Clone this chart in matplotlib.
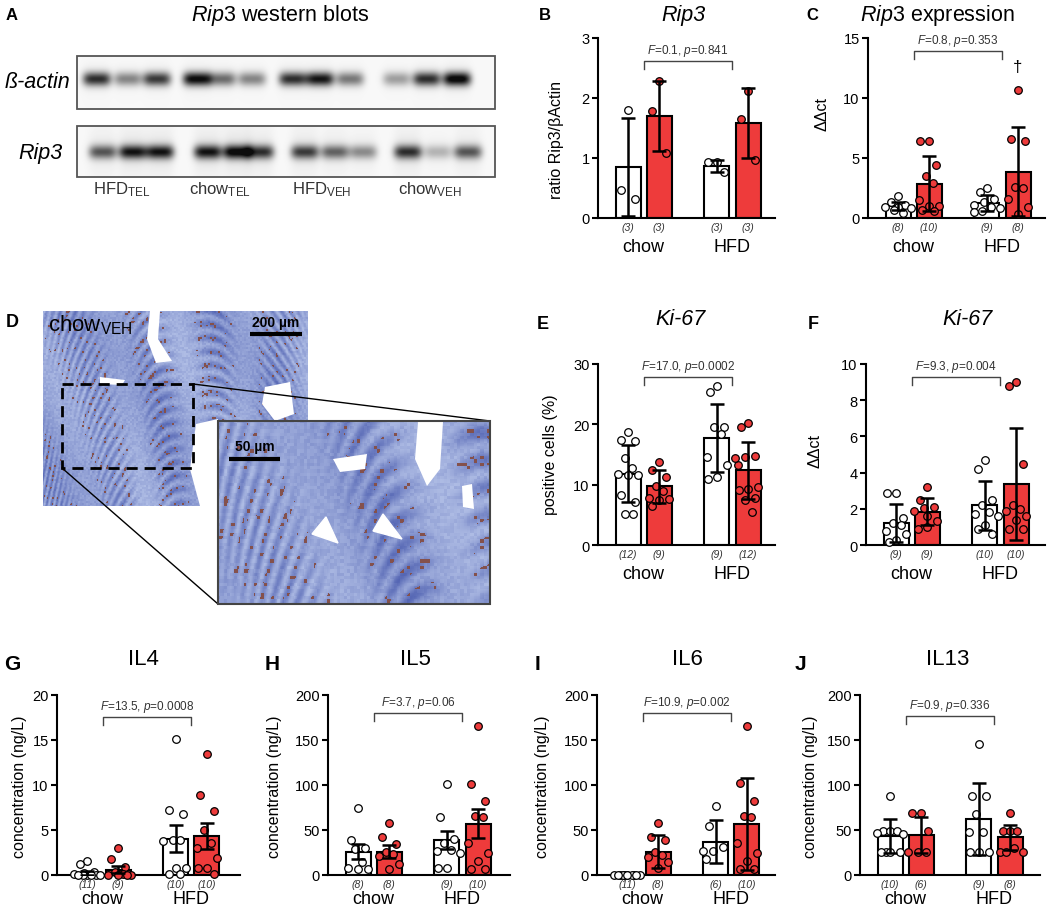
import numpy as np
import matplotlib
matplotlib.use("Agg")
import matplotlib.pyplot as plt
from matplotlib.patches import Rectangle, Polygon

W, H = 1052, 912

plt.rcParams['font.family'] = ['Liberation Sans', 'DejaVu Sans']
plt.rcParams['mathtext.fontset'] = 'custom'
plt.rcParams['mathtext.rm'] = 'Liberation Sans'
plt.rcParams['mathtext.it'] = 'Liberation Sans:italic'
plt.rcParams['mathtext.bf'] = 'Liberation Sans:bold'

RED = "#EE3B3B"
fills = ["white", RED]
groups = ["chow", "HFD"]
pos = [1.2, 2.45, 4.75, 6.0]

# A - western blot band strengths (3 lanes per group)
lane_labels = [r"HFD$_{\mathrm{TEL}}$", r"chow$_{\mathrm{TEL}}$", r"HFD$_{\mathrm{VEH}}$", r"chow$_{\mathrm{VEH}}$"]
actin_lanes = [97, 128, 157, 197, 222, 252, 293, 320, 350, 397, 427, 457]
actin_int = [0.80, 0.45, 0.75, 0.95, 0.55, 0.45, 0.80, 0.90, 0.50, 0.35, 0.80, 1.00]
rip3_lanes = [103, 133, 160, 208, 237, 260, 305, 335, 363, 408, 438, 468]
rip3_int = [0.60, 0.85, 0.85, 0.85, 0.95, 0.75, 0.70, 0.55, 0.40, 0.75, 0.25, 0.60]

# B - Rip3 / beta actin ratio
b_means = [0.85, 1.70, 0.87, 1.58]
b_err = [0.81, 0.59, 0.10, 0.58]
b_points = [[1.80, 0.47, 0.32], [2.28, 1.78, 1.08], [0.94, 0.93, 0.77], [2.12, 1.65, 0.97]]

# C - Rip3 expression
c_means = [1.0, 2.85, 1.25, 3.85]
c_err = [0.35, 2.3, 0.65, 3.7]
c_points = [[1.8, 1.3, 1.1, 0.95, 0.9, 0.8, 0.7, 0.4],
            [6.4, 6.4, 4.4, 3.5, 2.9, 1.5, 1.0, 1.0, 0.7, 0.6],
            [2.5, 2.2, 1.6, 1.3, 1.1, 0.9, 0.8, 0.6, 0.5],
            [10.7, 6.6, 6.4, 2.6, 2.5, 1.6, 0.9, 0.3]]

# E - Ki-67 positive cells
e_means = [11.8, 9.7, 17.7, 12.4]
e_err = [4.7, 2.7, 5.6, 4.7]
e_points = [[18.7, 17.3, 17.4, 14.4, 12.8, 11.8, 11.6, 11.6, 8.3, 7.1, 5.1, 5.1],
            [13.8, 12.4, 11.3, 9.8, 8.9, 7.8, 7.6, 7.5, 6.4],
            [26.4, 25.3, 19.5, 19.6, 18.4, 14.6, 13.2, 11.2, 10.9],
            [20.2, 19.6, 14.8, 14.6, 13.2, 14.4, 9.6, 9.3, 9.1, 7.5, 7.8, 5.4]]

# F - Ki-67 ddct
f_means = [1.2, 1.85, 2.2, 3.35]
f_err = [1.05, 0.75, 1.35, 3.1]
f_points = [[2.9, 2.85, 1.5, 1.2, 1.1, 0.75, 0.6, 0.3, 0.15],
            [3.2, 2.5, 2.1, 2.05, 1.9, 1.6, 1.3, 1.0, 0.9],
            [4.7, 4.2, 2.5, 2.2, 1.8, 1.7, 1.6, 1.1, 0.9, 0.6],
            [9.0, 8.8, 4.5, 2.2, 2.0, 1.9, 1.6, 1.4, 0.9, 0.9]]

# G - IL4
g_means = [0.2, 0.6, 4.05, 4.3]
g_err = [0.25, 0.4, 1.5, 1.45]
g_points = [[1.6, 1.2, 0.3, 0.2, 0.1, 0, 0, 0, 0, 0, 0],
            [3.0, 1.8, 0.9, 0.3, 0.1, 0, 0, 0, 0],
            [15.1, 7.2, 6.8, 3.9, 3.8, 3.9, 0.8, 0.8, 0.1, 0.1],
            [13.4, 8.9, 7.1, 5.0, 3.6, 3.0, 1.9, 0.8, 0.8, 0.1]]

# H - IL5
h_means = [26, 26, 39, 57]
h_err = [8, 7, 10, 16]
h_points = [[75, 39, 30, 29, 15, 8, 7, 7],
            [58, 42, 35, 26, 23, 21, 12, 7],
            [101, 65, 40, 36, 28, 27, 24, 8, 8],
            [166, 101, 82, 66, 65, 36, 25, 16, 7, 7]]

# I - IL6
i_means = [0, 26, 37, 57]
i_err = [0, 18, 24, 51]
i_points = [[0, 0, 0, 0, 0, 0, 0, 0, 0, 0, 0],
            [58, 42, 39, 26, 22, 20, 15, 8],
            [77, 54, 31, 27, 27, 18],
            [166, 102, 82, 66, 65, 36, 25, 16, 7, 7]]

# J - IL13
j_means = [43, 44, 62, 42]
j_err = [19, 20, 40, 14]
j_points = [[88, 49, 49, 49, 47, 46, 26, 26, 26, 26],
            [69, 69, 49, 26, 26, 26],
            [146, 88, 88, 68, 48, 48, 26, 26, 26],
            [69, 49, 49, 49, 30, 26, 26, 26]]


fig = plt.figure(figsize=(W / 100, H / 100), dpi=100)
fig.patch.set_facecolor("white")

# background axes in pixel coordinates for images / labels
bg = fig.add_axes([0, 0, 1, 1])
bg.axis("off")


def ftext(x, y, s, **kw):
    kw.setdefault("ha", "center")
    kw.setdefault("va", "center")
    bg.text(x, y, s, **kw)


# ---------- panel A: blots ----------
bx0, bx1 = 77, 495


def blot(y0, y1, lanes, ints, yc, tail):
    xs = np.arange(bx0, bx1) + 0.5
    ys = np.arange(y0, y1) + 0.5
    X, Y = np.meshgrid(xs, ys)
    img = np.zeros_like(X)
    for xc, a in zip(lanes, ints):
        core = np.exp(-((X - xc) / 14.0) ** 4)
        img += a * core * np.exp(-((Y - yc) / 7.0) ** 2)
        if tail:
            d = np.abs(Y - yc)
            img += 0.13 * a * core * np.exp(-d / 18.0)
        else:
            img += 0.05 * a * core * np.exp(-np.abs(Y - yc) / 12.0)
    img = np.clip(img + 0.03, 0, 1)
    bg.imshow(img, cmap="gray_r", vmin=0, vmax=1.05, extent=(bx0, bx1, y1, y0),
              interpolation="bilinear", zorder=1)
    bg.add_patch(Rectangle((bx0, y0), bx1 - bx0, y1 - y0, fill=False, ec="#555555", lw=1.3, zorder=3))


blot(57, 110, actin_lanes, actin_int, 80, False)
blot(127, 178, rip3_lanes, rip3_int, 153, True)
ftext(38, 82, "ß-actin", fontsize=15.5, style="italic")
ftext(40, 153, "Rip3", fontsize=15.5, style="italic")
for k, lab in enumerate(lane_labels):
    ftext([122, 220, 322, 430][k], 190, lab, fontsize=12, color="#333333")

# ---------- panel D: histology ----------


def tissue(x0, y0, x1, y1, f, a0, period):
    xs = np.arange(x0, x1) * f
    ys = np.arange(y0, y1) * f
    X, Y = np.meshgrid(xs, ys)
    a = a0 + 0.005 * (X - xs[0])
    u = X * np.cos(a) + Y * np.sin(a)
    v = -X * np.sin(a) + Y * np.cos(a)
    crypt = 0.5 + 0.5 * np.sin(u * 2 * np.pi / period + 2.0 * np.sin(0.03 * v))
    band = 0.5 + 0.5 * np.sin(v * 0.035)
    gx = np.floor(X / 2.0)
    gy = np.floor(Y / 2.0)
    grain = np.sin(gx * 12.9898 + gy * 78.233) * 43758.5453
    grain = grain - np.floor(grain)
    t = 0.28 + 0.38 * crypt * band + 0.14 * grain + 0.08 * np.sin(0.05 * X - 0.03 * Y)
    t = np.clip(t, 0, 1)
    light = np.array([0.80, 0.85, 0.96])
    dark = np.array([0.25, 0.32, 0.66])
    rgb = light + (dark - light) * t[..., None]
    spots = (grain > 0.88) & (crypt > 0.65) & (band > 0.35)
    rgb[spots] = [0.52, 0.32, 0.30]
    return rgb


bg.imshow(tissue(43, 312, 308, 507, 1.0, 0.5, 13), extent=(43, 308, 507, 312),
          interpolation="bilinear", zorder=1)
bg.imshow(tissue(218, 422, 490, 605, 0.6, 0.3, 14), extent=(218, 490, 605, 422),
          interpolation="bilinear", zorder=4)

lumen_main = [[(150, 312), (160, 312), (158, 340), (172, 362), (156, 364), (147, 340)],
              [(265, 388), (290, 383), (294, 415), (275, 422), (262, 405)],
              [(196, 425), (218, 420), (218, 507), (200, 507), (190, 470)],
              [(100, 378), (125, 381), (122, 386), (100, 385)]]
lumen_inset = [[(333, 460), (367, 455), (365, 470), (340, 473)],
               [(418, 423), (443, 423), (440, 470), (427, 487), (415, 460)],
               [(462, 487), (472, 485), (474, 510), (463, 508)]]
for poly in lumen_main:
    bg.add_patch(Polygon(poly, closed=True, fc="white", ec="none", zorder=2))
for poly in lumen_inset:
    bg.add_patch(Polygon(poly, closed=True, fc="white", ec="none", zorder=5))

bg.add_patch(Rectangle((62, 385), 131, 84, fill=False, ec="black", lw=2, ls=(0, (4, 2.5)), zorder=3))
bg.plot([193, 490], [385, 422], color="black", lw=1, zorder=3)
bg.plot([62, 218], [469, 605], color="black", lw=1, zorder=3)
bg.add_patch(Rectangle((218, 422), 272, 183, fill=False, ec="#444444", lw=1.5, zorder=6))

bg.plot([250, 302], [335, 335], color="black", lw=3, zorder=6, solid_capstyle="butt")
ftext(276, 323, "200 µm", fontsize=10, fontweight="bold", zorder=6)
bg.plot([229, 280], [460, 460], color="black", lw=3, zorder=6, solid_capstyle="butt")
ftext(255, 447, "50 µm", fontsize=10, fontweight="bold", zorder=6)
for tri in [[(326, 518), (312, 535), (338, 544)], [(383, 515), (373, 532), (402, 540)]]:
    bg.add_patch(Polygon(tri, closed=True, fc="white", ec="white", lw=1, zorder=6))
bg.text(48, 325, r"chow$_{\mathrm{VEH}}$", fontsize=16, ha="left", va="center", zorder=6)

bg.set_aspect("auto")
bg.set_xlim(0, W)
bg.set_ylim(H, 0)


# ---------- bar panels ----------


def spread(values, ppy, d=7.5):
    xs = [0.0] * len(values)
    placed = []
    cands = [0, -4.5, 4.5, -9, 9, -13, 13]
    prefer = [0, -7, 7, -3, 4, -10, 10]
    order = np.argsort(values)[::-1]
    for rank, i in enumerate(order):
        y = values[i] * ppy
        tries = [prefer[rank % len(prefer)]] + cands
        best, best_gap = 0, -1
        for c in tries:
            gap = min([np.hypot(c - px, y - py) for px, py in placed], default=99)
            if gap >= d:
                best = c
                break
            if gap > best_gap:
                best, best_gap = c, gap
        xs[i] = best
        placed.append((best, y))
    return np.array(xs) / 25.0


def bar_panel(box, ymax, yticks, means, errs, points, stat, stat_y, glab_off=-20.5):
    l, t, r, b = box
    ax = fig.add_axes([l / W, 1 - b / H, (r - l) / W, (b - t) / H])
    ax.set_xlim(0, (r - l) / 25.0)
    ax.set_ylim(0, ymax)
    ppy = (b - t) / ymax
    for k in range(4):
        face = fills[k % 2]
        if means[k] > 0:
            ax.bar(pos[k], means[k], width=1.0, color=face, edgecolor="black", linewidth=1.5, zorder=2)
        xs = pos[k] + spread(points[k], ppy)
        ax.scatter(xs, points[k], s=30, c=face, edgecolors="black", linewidths=0.9, zorder=3, clip_on=False)
        if errs[k] > 0:
            ax.errorbar(pos[k], means[k], yerr=errs[k], fmt="none", ecolor="black",
                        elinewidth=1.8, capsize=5, capthick=1.8, zorder=4)
        ax.annotate("(%d)" % len(points[k]), (pos[k], 0), xycoords=("data", "axes fraction"),
                    xytext=(0, -6.5), textcoords="offset points", ha="center", va="center",
                    fontsize=7.5, style="italic", color="#333333")
    for g, name in enumerate(groups):
        ax.annotate(name, ((pos[2 * g] + pos[2 * g + 1]) / 2, 0), xycoords=("data", "axes fraction"),
                    xytext=(0, glab_off), textcoords="offset points", ha="center", va="center", fontsize=13)
    x0 = (pos[0] + pos[1]) / 2
    x1 = (pos[2] + pos[3]) / 2
    dy = 8 / ppy
    ax.plot([x0, x0, x1, x1], [stat_y - dy, stat_y, stat_y, stat_y - dy], color="#444444", lw=1, clip_on=False)
    ax.text((x0 + x1) / 2, stat_y + 3 / ppy, stat, ha="center", va="bottom", fontsize=8.5, color="#333333")
    for s in ["top", "right"]:
        ax.spines[s].set_visible(False)
    for s in ["left", "bottom"]:
        ax.spines[s].set_linewidth(1.5)
    ax.set_xticks([])
    ax.set_yticks(yticks)
    ax.tick_params(axis="y", length=4, width=1.5, labelsize=10.5, pad=2)
    ax.patch.set_alpha(0)
    return ax


bar_panel((598, 39, 775, 219), 3, [0, 1, 2, 3], b_means, b_err, b_points,
          r"$\mathit{F}$=0.1, $\mathit{p}$=0.841", 2.62)
axc = bar_panel((868, 39, 1045, 219), 15, [0, 5, 10, 15], c_means, c_err, c_points,
                r"$\mathit{F}$=0.8, $\mathit{p}$=0.353", 13.9)
axc.text(pos[3], 12.6, "†", ha="center", va="center", fontsize=12)
bar_panel((598, 365, 775, 546), 30, [0, 10, 20, 30], e_means, e_err, e_points,
          r"$\mathit{F}$=17.0, $\mathit{p}$=0.0002", 27.9)
bar_panel((866, 365, 1045, 546), 10, [0, 2, 4, 6, 8, 10], f_means, f_err, f_points,
          r"$\mathit{F}$=9.3, $\mathit{p}$=0.004", 9.3)
bar_panel((57, 696, 240, 876), 20, [0, 5, 10, 15, 20], g_means, g_err, g_points,
          r"$\mathit{F}$=13.5, $\mathit{p}$=0.0008", 17.6, -17)
bar_panel((328, 696, 510, 876), 200, [0, 50, 100, 150, 200], h_means, h_err, h_points,
          r"$\mathit{F}$=3.7, $\mathit{p}$=0.06", 180, -17)
bar_panel((597, 696, 775, 876), 200, [0, 50, 100, 150, 200], i_means, i_err, i_points,
          r"$\mathit{F}$=10.9, $\mathit{p}$=0.002", 180, -17)
bar_panel((860, 696, 1040, 876), 200, [0, 50, 100, 150, 200], j_means, j_err, j_points,
          r"$\mathit{F}$=0.9, $\mathit{p}$=0.336", 177, -17)

# y labels
ylabels = [(556, 140, "ratio Rip3/βActin"), (822, 114, "ΔΔct"),
           (550, 455, "positive cells (%)"), (815, 451, "ΔΔct"),
           (20, 787, "concentration (ng/L)"), (275, 787, "concentration (ng/L)"),
           (543, 787, "concentration (ng/L)"), (810, 787, "concentration (ng/L)")]
for x, y, s in ylabels:
    ftext(x, y, s, rotation=90, fontsize=11.5)

# titles and panel letters
ftext(280, 16, r"$\mathit{Rip3}$ western blots", fontsize=15.5)
ftext(683, 15, "Rip3", fontsize=15.5, style="italic")
ftext(937, 15, r"$\mathit{Rip3}$ expression", fontsize=15.5)
ftext(680, 320, "Ki-67", fontsize=15.5, style="italic")
ftext(967, 320, "Ki-67", fontsize=15.5, style="italic")
for x, s in [(143, "IL4"), (415, "IL5"), (687, "IL6"), (948, "IL13")]:
    ftext(x, 660, s, fontsize=16)

letters = [(12, 15, "A", 12), (545, 15, "B", 12), (812, 15, "C", 12),
           (12, 323, "D", 13), (543, 325, "E", 13), (813, 325, "F", 13),
           (12, 665, "G", 15), (272, 665, "H", 15), (538, 665, "I", 15), (800, 665, "J", 15)]
for x, y, s, fs in letters:
    ftext(x, y, s, fontsize=fs, fontweight="bold")

fig.savefig("out.png", dpi=100)
